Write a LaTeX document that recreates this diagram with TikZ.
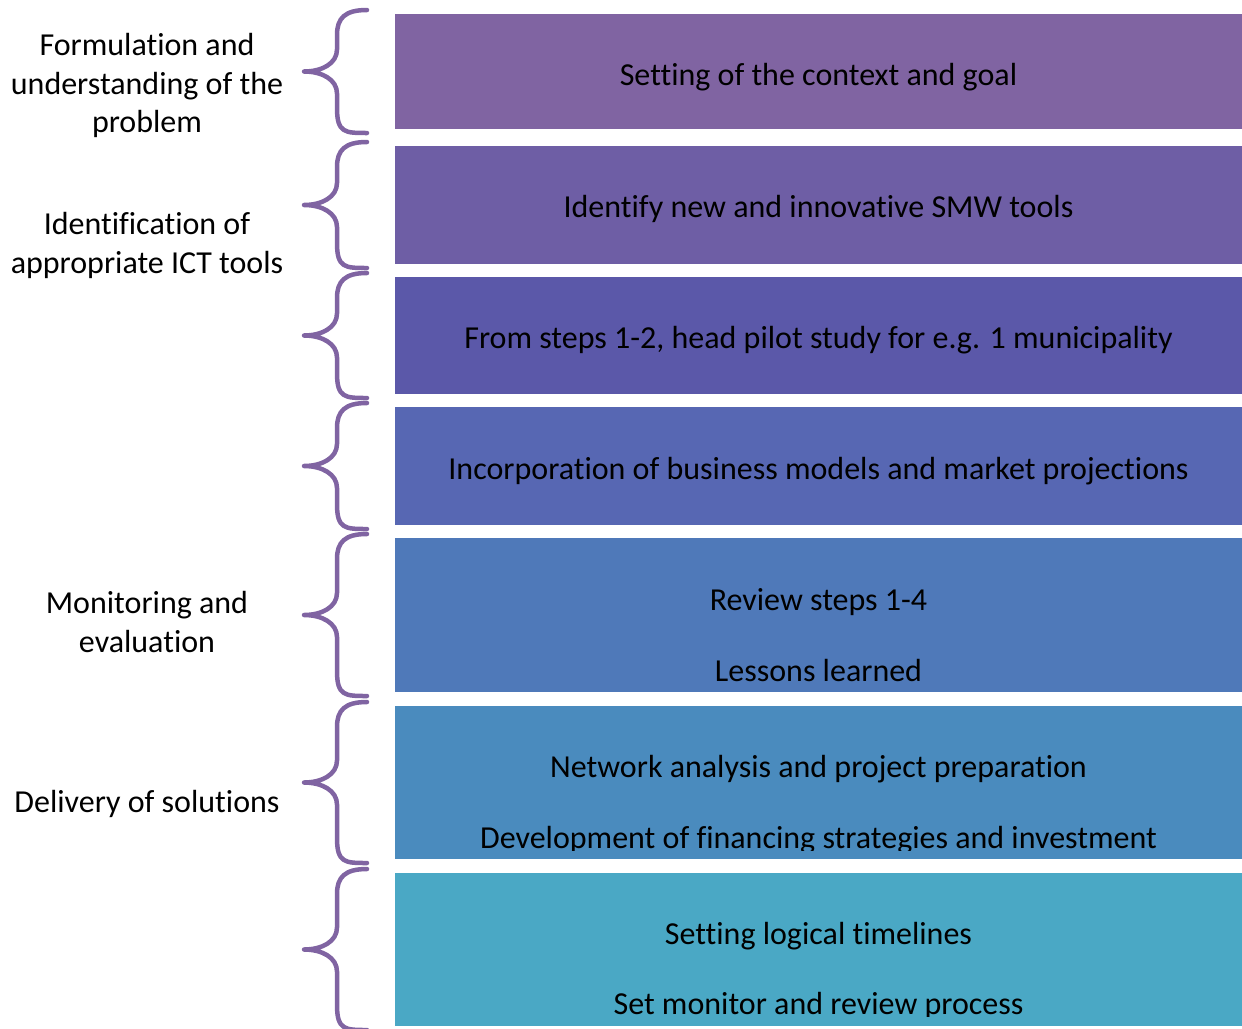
\documentclass[tikz,border=0pt]{standalone}
\usepackage{fontspec}
\setmainfont{Carlito}[Ligatures=NoCommon, RawFeature={-clig}]
\usetikzlibrary{positioning,calc}
\definecolor{stA}{HTML}{8064A2}
\definecolor{stB}{HTML}{6E5EA5}
\definecolor{stC}{HTML}{5B58A9}
\definecolor{stD}{HTML}{5767B3}
\definecolor{stE}{HTML}{4F79B9}
\definecolor{stF}{HTML}{4A8BBE}
\definecolor{stG}{HTML}{4AA8C5}

\begin{document}
\begin{tikzpicture}[x=1pt, y=-1pt,
    every node/.style={font=\fontsize{32}{38.5}\selectfont, inner sep=0pt},
    stepbox/.style={fill=#1, minimum width=847pt, anchor=north west},
    bracket/.style={draw=stA, line width=4.5pt, line cap=round, line join=round}]
  \useasboundingbox (0,0) rectangle (1242,1028);
  % boxes and braces, one per step
  \foreach \i/\t/\b/\c in {1/14/129/stA, 2/146/264/stB, 3/277/394/stC, 4/407/525/stD,
                           5/538/692/stE, 6/706/859/stF, 7/873/1026/stG} {
    \node[stepbox=\c, minimum height={(\b-\t)*1pt}] (box\i) at (395,\t) {};
    \pgfmathsetmacro\m{(\t+\b)/2}
    \draw[bracket] (367,\t-4) .. controls (345,\t-4) and (337,\t+4) .. (337,\t+21)
      -- (337,\m-22) .. controls (337,\m-8) and (322,\m) .. (304,\m)
      .. controls (322,\m) and (337,\m+8) .. (337,\m+22)
      -- (337,\b-21) .. controls (337,\b+4) and (345,\b+4) .. (367,\b+4);
  }
  % step texts
  \node[anchor=base] (s1) at (818.5,85) {Setting of the context and goal};
  \node[anchor=base] (s2) at (818.5,217) {Identify new and innovative SMW tools};
  \node[anchor=base] (s3) at (818.5,348) {From steps 1-2, head pilot study for e.g. 1 municipality};
  \node[anchor=base] (s4) at (818.5,479) {Incorporation of business models and market projections};
  \node[anchor=base] (s5a) at (818.5,610) {Review steps 1-4};
  \node[anchor=base] (s5b) at (818.5,681) {Lessons learned};
  \begin{scope}
    \clip (395,706) rectangle (1242,850);
    \node[anchor=base] (s6a) at (818.5,777) {Network analysis and project preparation};
    \node[anchor=base] (s6b) at (818.5,848) {Development of financing strategies and investment};
  \end{scope}
  \begin{scope}
    \clip (395,873) rectangle (1242,1016);
    \node[anchor=base] (s7a) at (818.5,944) {Setting logical timelines};
    \node[anchor=base] (s7b) at (818.5,1014) {Set monitor and review process};
  \end{scope}
  % phase labels
  \node[align=center] (lab1) at (147,85.5) {Formulation and\\understanding of the\\problem};
  \node[align=center] (lab2) at (147,245.5) {Identification of\\appropriate ICT tools};
  \node[align=center] (lab3) at (147,622) {Monitoring and\\evaluation};
  \node[anchor=base] (lab4) at (147,812) {Delivery of solutions};
\end{tikzpicture}
\end{document}
